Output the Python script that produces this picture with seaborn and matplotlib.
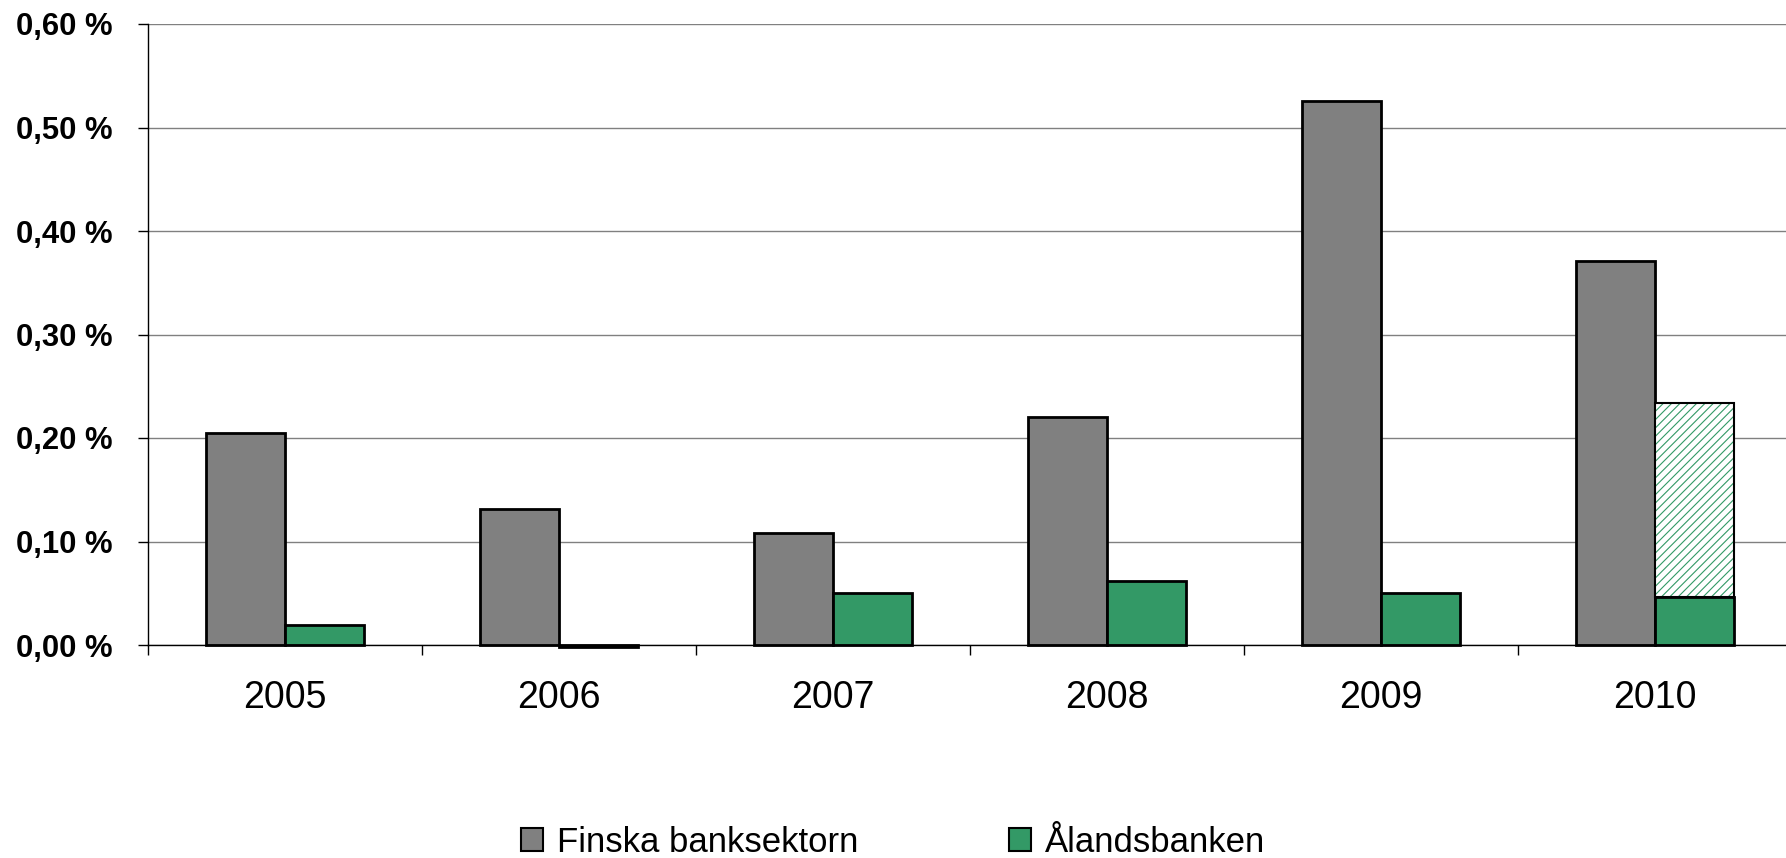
import matplotlib
matplotlib.use('Agg')
import matplotlib.pyplot as plt
import seaborn as sns
import pandas as pd
from matplotlib.patches import Patch
from matplotlib.ticker import FuncFormatter

# data
years = ['2005', '2006', '2007', '2008', '2009', '2010']
finska = [0.205, 0.131, 0.108, 0.220, 0.526, 0.371]
aland = [0.019, -0.002, 0.050, 0.062, 0.050, 0.046]
aland_2010_total = 0.234  # hatched part of the 2010 bar goes up to here
series = ['Finska banksektorn', 'Ålandsbanken']
colors = ['#808080', '#339966']
yticks = [0.0, 0.1, 0.2, 0.3, 0.4, 0.5, 0.6]

df = pd.DataFrame({
    'year': years * 2,
    'serie': [series[0]] * len(years) + [series[1]] * len(years),
    'value': finska + aland,
})

sns.set_style('white')
plt.rcParams['font.family'] = ['Liberation Sans', 'DejaVu Sans']
plt.rcParams['text.color'] = 'black'
plt.rcParams['xtick.color'] = 'black'
plt.rcParams['ytick.color'] = 'black'
plt.rcParams['hatch.linewidth'] = 0.8

fig = plt.figure(figsize=(17.86, 8.58), dpi=100)
ax = fig.add_axes([148 / 1786, 1 - 645 / 858, (1792 - 148) / 1786, (645 - 24) / 858])

sns.barplot(data=df, x='year', y='value', hue='serie', palette=colors,
            width=0.573, saturation=1, edgecolor='black', linewidth=2,
            errorbar=None, legend=False, ax=ax)

# hatched extension on top of the 2010 Ålandsbanken bar
rect = ax.containers[1][5]
x0, w = rect.get_x(), rect.get_width()
ax.bar(x0, aland_2010_total - aland[5], bottom=aland[5], width=w, align='edge',
       facecolor='white', edgecolor=colors[1], hatch='////', linewidth=0)
ax.bar(x0, aland_2010_total - aland[5], bottom=aland[5], width=w, align='edge',
       fill=False, edgecolor='black', linewidth=1.5)

for p in ax.patches:
    p.set_clip_on(False)

ax.set_xlim(-0.5, 5.5)
ax.set_ylim(0, 0.6)
ax.set_yticks(yticks)
ax.yaxis.set_major_formatter(FuncFormatter(lambda v, pos: f'{v:.2f} %'.replace('.', ',')))
ax.yaxis.grid(True, color='#808080', linewidth=1)
ax.set_axisbelow(True)

for s in ['top', 'right']:
    ax.spines[s].set_visible(False)
for s in ['left', 'bottom']:
    ax.spines[s].set_color('black')
    ax.spines[s].set_linewidth(1)

ax.tick_params(axis='y', left=True, length=7.2, width=1, color='black', pad=18,
               labelsize=22.3)
for lab in ax.get_yticklabels():
    lab.set_fontweight('bold')

ax.set_xticks([i - 0.5 for i in range(len(years) + 1)], minor=True)
ax.tick_params(axis='x', which='major', length=0, pad=25, labelsize=27)
ax.tick_params(axis='x', which='minor', bottom=True, length=7.2, width=1, color='black')
ax.set_xlabel('')
ax.set_ylabel('')

handles = [Patch(facecolor=c, edgecolor='black', linewidth=1.5) for c in colors]
fig.legend(handles, series, loc='center', bbox_to_anchor=(0.5, 1 - 842 / 858), ncol=2,
           frameon=False, fontsize=25, handlelength=0.63, handleheight=0.63,
           handletextpad=0.4, columnspacing=4.35, borderpad=0, borderaxespad=0)

fig.savefig('out.png', dpi=100, facecolor='white')
